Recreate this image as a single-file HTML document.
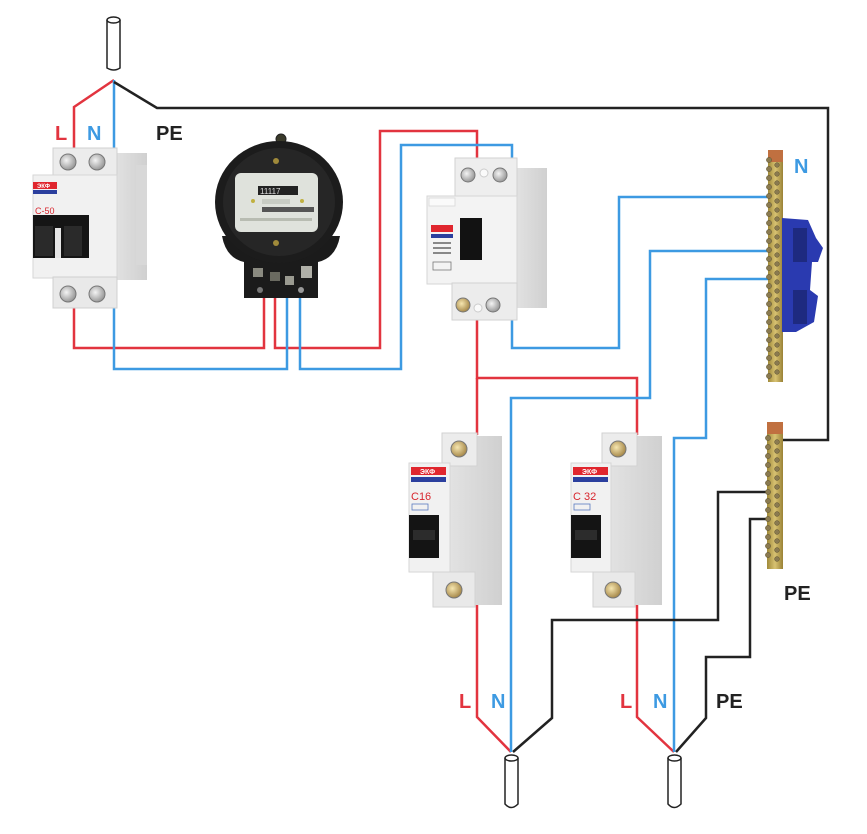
<!DOCTYPE html>
<html>
<head>
<meta charset="utf-8">
<style>
  html,body{margin:0;padding:0;background:#fff;}
  svg{display:block;}
  text{font-family:"Liberation Sans","DejaVu Sans",sans-serif;}
</style>
</head>
<body>
<svg width="867" height="834" viewBox="0 0 867 834" xmlns="http://www.w3.org/2000/svg">
  <defs>
    <linearGradient id="brass" x1="0" x2="1" y1="0" y2="0">
      <stop offset="0" stop-color="#a08a3a"/>
      <stop offset="0.5" stop-color="#d8c272"/>
      <stop offset="1" stop-color="#9a8236"/>
    </linearGradient>
    <linearGradient id="side" x1="0" x2="1" y1="0" y2="0">
      <stop offset="0" stop-color="#e2e2e2"/>
      <stop offset="1" stop-color="#d0d0d0"/>
    </linearGradient>
    <radialGradient id="screw" cx="0.4" cy="0.4" r="0.7">
      <stop offset="0" stop-color="#f4f4f4"/>
      <stop offset="1" stop-color="#8a8a8a"/>
    </radialGradient>
    <radialGradient id="screwb" cx="0.4" cy="0.4" r="0.7">
      <stop offset="0" stop-color="#f6e6b0"/>
      <stop offset="1" stop-color="#9a7a3a"/>
    </radialGradient>
  </defs>

  <rect width="867" height="834" fill="#fff"/>

  <!-- ================= WIRES ================= -->
  <g fill="none" stroke-width="2.5" stroke-linejoin="miter">
    <g stroke="#e2343f">
      <path d="M114,80 L74,107 L74,150"/>
      <path d="M74,306 L74,348 L264,348 L264,298"/>
      <path d="M275,298 L275,348 L380,348 L380,131 L477,131 L477,160"/>
      <path d="M477,320 L477,378 L637,378 L637,435"/>
      <path d="M477,378 L477,435"/>
      <path d="M477,605 L477,717 L511,752"/>
      <path d="M637,605 L637,717 L674,752"/>
    </g>
    <g stroke="#3d9ae2">
      <path d="M114,80 L114,150"/>
      <path d="M114,306 L114,369 L287,369 L287,298"/>
      <path d="M300,298 L300,369 L401,369 L401,145 L512,145 L512,160"/>
      <path d="M512,320 L512,348 L619,348 L619,197 L771,197"/>
      <path d="M771,251 L650,251 L650,398 L511,398 L511,752"/>
      <path d="M771,279 L706,279 L706,438 L674,438 L674,752"/>
    </g>
    <g stroke="#222">
      <path d="M114,82 L157,108 L828,108 L828,440 L782,440"/>
      <path d="M768,492 L718,492 L718,620 L552,620 L552,718 L513,752"/>
      <path d="M768,519 L750,519 L750,657 L706,657 L706,718 L676,752"/>
    </g>
  </g>

  <!-- ================= CABLES ================= -->
  <g stroke="#222" stroke-width="1.5" fill="#fff">
    <path d="M107,20 L107,68 Q114,72 120,68 L120,20"/>
    <ellipse cx="113.5" cy="20" rx="6.5" ry="3"/>
  </g>
  <g stroke="#222" stroke-width="1.5" fill="#fff">
    <path d="M505,758 L505,804 Q511,811 518,804 L518,758"/>
    <ellipse cx="511.5" cy="758" rx="6.5" ry="3"/>
    <path d="M668,758 L668,804 Q674,811 681,804 L681,758"/>
    <ellipse cx="674.5" cy="758" rx="6.5" ry="3"/>
  </g>

  <!-- ================= BREAKER C50 (2-pole) ================= -->
  <g>
    <rect x="114" y="153" width="33" height="127" fill="url(#side)"/>
    <rect x="136" y="165" width="11" height="100" fill="#d8d8d8"/>
    <rect x="53" y="148" width="64" height="29" fill="#ececec" stroke="#d0d0d0"/>
    <rect x="33" y="175" width="84" height="103" fill="#f1f1f1" stroke="#d6d6d6"/>
    <rect x="53" y="277" width="64" height="31" fill="#e9e9e9" stroke="#d0d0d0"/>
    <circle cx="68" cy="162" r="8" fill="url(#screw)" stroke="#777"/>
    <circle cx="97" cy="162" r="8" fill="url(#screw)" stroke="#777"/>
    <circle cx="68" cy="294" r="8" fill="url(#screw)" stroke="#777"/>
    <circle cx="97" cy="294" r="8" fill="url(#screw)" stroke="#777"/>
    <rect x="33" y="182" width="24" height="7" fill="#e0262e"/>
    <text x="37" y="188" font-size="6" fill="#fff" font-weight="bold">ЭКФ</text>
    <rect x="33" y="190" width="24" height="4" fill="#2b3f9e"/>
    <text x="35" y="214" font-size="9" fill="#d8262e">С-50</text>
    <rect x="33" y="215" width="56" height="43" fill="#151515"/>
    <rect x="35" y="226" width="18" height="30" fill="#2a2a2a"/>
    <rect x="64" y="226" width="18" height="30" fill="#2a2a2a"/>
    <rect x="55" y="228" width="6" height="30" fill="#e5e5e5"/>
  </g>

  <!-- ================= METER ================= -->
  <g>
    <circle cx="281" cy="139" r="5" fill="#3a3a2a" stroke="#222"/>
    <path d="M222,236 Q226,258 244,262 L244,298 L318,298 L318,262 Q336,258 340,236 Z" fill="#1b1b1b"/>
    <ellipse cx="279" cy="202" rx="64" ry="61" fill="#1c1c1c"/>
    <ellipse cx="279" cy="202" rx="56" ry="54" fill="#262626"/>
    <rect x="235" y="173" width="83" height="59" rx="6" fill="#dfe2dc"/>
    <rect x="258" y="186" width="40" height="9" fill="#222"/>
    <text x="260" y="194" font-size="8" fill="#ddd" font-family="Liberation Mono, monospace">11117</text>
    <rect x="262" y="199" width="28" height="5" fill="#c8ccc4"/>
    <circle cx="253" cy="201" r="2" fill="#c0b040"/>
    <circle cx="302" cy="201" r="2" fill="#c0b040"/>
    <rect x="262" y="207" width="52" height="5" fill="#555"/>
    <rect x="240" y="218" width="72" height="3" fill="#b8bcb2"/>
    <circle cx="276" cy="161" r="3" fill="#a08a3a"/>
    <circle cx="276" cy="243" r="3" fill="#a08a3a"/>
    <rect x="253" y="268" width="10" height="9" fill="#8a8a80"/>
    <rect x="270" y="272" width="10" height="9" fill="#6a6a60"/>
    <rect x="285" y="276" width="9" height="9" fill="#9a9a90"/>
    <rect x="301" y="266" width="11" height="12" fill="#b0b0a8"/>
    <circle cx="260" cy="290" r="3" fill="#777"/>
    <circle cx="301" cy="290" r="3" fill="#999"/>
  </g>

  <!-- ================= RCD ================= -->
  <g>
    <rect x="515" y="168" width="32" height="140" fill="url(#side)"/>
    <rect x="455" y="158" width="62" height="38" fill="#eeeeee" stroke="#d2d2d2"/>
    <rect x="427" y="196" width="90" height="88" fill="#f3f3f3" stroke="#d6d6d6"/>
    <rect x="429" y="198" width="26" height="8" fill="#fafafa" stroke="#ddd"/>
    <rect x="431" y="225" width="22" height="7" fill="#e0262e"/>
    <rect x="431" y="234" width="22" height="4" fill="#2b3f9e"/>
    <rect x="433" y="242" width="18" height="2" fill="#888"/>
    <rect x="433" y="247" width="18" height="2" fill="#888"/>
    <rect x="433" y="252" width="18" height="2" fill="#888"/>
    <rect x="433" y="262" width="18" height="8" fill="none" stroke="#777" stroke-width="0.8"/>
    <rect x="460" y="218" width="22" height="42" fill="#121212"/>
    <rect x="452" y="283" width="65" height="37" fill="#ececec" stroke="#d2d2d2"/>
    <circle cx="468" cy="175" r="7" fill="url(#screw)" stroke="#777"/>
    <circle cx="484" cy="173" r="4" fill="#fafafa" stroke="#ccc"/>
    <circle cx="500" cy="175" r="7" fill="url(#screw)" stroke="#777"/>
    <circle cx="463" cy="305" r="7" fill="url(#screwb)" stroke="#777"/>
    <circle cx="478" cy="308" r="4" fill="#fafafa" stroke="#ccc"/>
    <circle cx="493" cy="305" r="7" fill="url(#screw)" stroke="#777"/>
  </g>

  <!-- ================= N BUS ================= -->
  <g>
    <rect x="768" y="150" width="15" height="232" fill="url(#brass)"/>
    <rect x="768" y="150" width="15" height="12" fill="#c07040"/>
    <path d="M782,218 L808,220 L816,238 L823,248 L818,262 L812,262 L810,290 L818,296 L814,322 L796,332 L782,332 Z" fill="#2a3ab0"/>
    <rect x="793" y="228" width="14" height="34" fill="#1e2a80"/>
    <rect x="793" y="290" width="14" height="34" fill="#1e2a80"/>
    <g fill="#8a7a50" stroke="#5a5030" stroke-width="0.5">
      <circle cx="769" cy="160" r="2.6"/><circle cx="769" cy="169" r="2.6"/><circle cx="769" cy="178" r="2.6"/>
      <circle cx="769" cy="187" r="2.6"/><circle cx="769" cy="196" r="2.6"/><circle cx="769" cy="205" r="2.6"/>
      <circle cx="769" cy="214" r="2.6"/><circle cx="769" cy="223" r="2.6"/><circle cx="769" cy="232" r="2.6"/>
      <circle cx="769" cy="241" r="2.6"/><circle cx="769" cy="250" r="2.6"/><circle cx="769" cy="259" r="2.6"/>
      <circle cx="769" cy="268" r="2.6"/><circle cx="769" cy="277" r="2.6"/><circle cx="769" cy="286" r="2.6"/>
      <circle cx="769" cy="295" r="2.6"/><circle cx="769" cy="304" r="2.6"/><circle cx="769" cy="313" r="2.6"/>
      <circle cx="769" cy="322" r="2.6"/><circle cx="769" cy="331" r="2.6"/><circle cx="769" cy="340" r="2.6"/>
      <circle cx="769" cy="349" r="2.6"/><circle cx="769" cy="358" r="2.6"/><circle cx="769" cy="367" r="2.6"/>
      <circle cx="769" cy="376" r="2.6"/>
      <circle cx="777" cy="165" r="2.3"/><circle cx="777" cy="174" r="2.3"/><circle cx="777" cy="183" r="2.3"/>
      <circle cx="777" cy="192" r="2.3"/><circle cx="777" cy="201" r="2.3"/><circle cx="777" cy="210" r="2.3"/>
      <circle cx="777" cy="219" r="2.3"/><circle cx="777" cy="228" r="2.3"/><circle cx="777" cy="237" r="2.3"/>
      <circle cx="777" cy="246" r="2.3"/><circle cx="777" cy="255" r="2.3"/><circle cx="777" cy="264" r="2.3"/>
      <circle cx="777" cy="273" r="2.3"/><circle cx="777" cy="282" r="2.3"/><circle cx="777" cy="291" r="2.3"/>
      <circle cx="777" cy="300" r="2.3"/><circle cx="777" cy="309" r="2.3"/><circle cx="777" cy="318" r="2.3"/>
      <circle cx="777" cy="327" r="2.3"/><circle cx="777" cy="336" r="2.3"/><circle cx="777" cy="345" r="2.3"/>
      <circle cx="777" cy="354" r="2.3"/><circle cx="777" cy="363" r="2.3"/><circle cx="777" cy="372" r="2.3"/>
    </g>
  </g>

  <!-- ================= PE BUS ================= -->
  <g>
    <rect x="767" y="422" width="16" height="147" fill="url(#brass)"/>
    <rect x="767" y="422" width="16" height="12" fill="#c07040"/>
    <g fill="#8a7a50" stroke="#5a5030" stroke-width="0.5">
      <circle cx="768" cy="438" r="2.6"/><circle cx="768" cy="447" r="2.6"/><circle cx="768" cy="456" r="2.6"/>
      <circle cx="768" cy="465" r="2.6"/><circle cx="768" cy="474" r="2.6"/><circle cx="768" cy="483" r="2.6"/>
      <circle cx="768" cy="492" r="2.6"/><circle cx="768" cy="501" r="2.6"/><circle cx="768" cy="510" r="2.6"/>
      <circle cx="768" cy="519" r="2.6"/><circle cx="768" cy="528" r="2.6"/><circle cx="768" cy="537" r="2.6"/>
      <circle cx="768" cy="546" r="2.6"/><circle cx="768" cy="555" r="2.6"/>
      <circle cx="777" cy="442" r="2.4"/><circle cx="777" cy="451" r="2.4"/><circle cx="777" cy="460" r="2.4"/>
      <circle cx="777" cy="469" r="2.4"/><circle cx="777" cy="478" r="2.4"/><circle cx="777" cy="487" r="2.4"/>
      <circle cx="777" cy="496" r="2.4"/><circle cx="777" cy="505" r="2.4"/><circle cx="777" cy="514" r="2.4"/>
      <circle cx="777" cy="523" r="2.4"/><circle cx="777" cy="532" r="2.4"/><circle cx="777" cy="541" r="2.4"/>
      <circle cx="777" cy="550" r="2.4"/><circle cx="777" cy="559" r="2.4"/>
    </g>
  </g>

  <!-- ================= BREAKER C16 ================= -->
  <g>
    <rect x="450" y="436" width="52" height="169" fill="url(#side)"/>
    <rect x="442" y="433" width="35" height="33" fill="#ececec" stroke="#d2d2d2"/>
    <rect x="409" y="463" width="41" height="109" fill="#f1f1f1" stroke="#d6d6d6"/>
    <rect x="433" y="572" width="42" height="35" fill="#e9e9e9" stroke="#d2d2d2"/>
    <circle cx="459" cy="449" r="8" fill="url(#screwb)" stroke="#777"/>
    <circle cx="454" cy="590" r="8" fill="url(#screwb)" stroke="#777"/>
    <rect x="411" y="467" width="35" height="8" fill="#e0262e"/>
    <text x="420" y="474" font-size="7" fill="#fff" font-weight="bold">ЭКФ</text>
    <rect x="411" y="477" width="35" height="5" fill="#2b3f9e"/>
    <text x="411" y="500" font-size="11" fill="#d8262e">C16</text>
    <rect x="412" y="504" width="16" height="6" fill="none" stroke="#5a7ac0" stroke-width="0.8"/>
    <rect x="409" y="515" width="30" height="43" fill="#141414"/>
    <rect x="413" y="530" width="22" height="10" fill="#2c2c2c"/>
  </g>

  <!-- ================= BREAKER C32 ================= -->
  <g>
    <rect x="610" y="436" width="52" height="169" fill="url(#side)"/>
    <rect x="602" y="433" width="35" height="33" fill="#ececec" stroke="#d2d2d2"/>
    <rect x="571" y="463" width="40" height="109" fill="#f1f1f1" stroke="#d6d6d6"/>
    <rect x="593" y="572" width="42" height="35" fill="#e9e9e9" stroke="#d2d2d2"/>
    <circle cx="618" cy="449" r="8" fill="url(#screwb)" stroke="#777"/>
    <circle cx="613" cy="590" r="8" fill="url(#screwb)" stroke="#777"/>
    <rect x="573" y="467" width="35" height="8" fill="#e0262e"/>
    <text x="582" y="474" font-size="7" fill="#fff" font-weight="bold">ЭКФ</text>
    <rect x="573" y="477" width="35" height="5" fill="#2b3f9e"/>
    <text x="573" y="500" font-size="11" fill="#d8262e">C 32</text>
    <rect x="574" y="504" width="16" height="6" fill="none" stroke="#5a7ac0" stroke-width="0.8"/>
    <rect x="571" y="515" width="30" height="43" fill="#141414"/>
    <rect x="575" y="530" width="22" height="10" fill="#2c2c2c"/>
  </g>

  <!-- ================= LABELS ================= -->
  <g font-size="20" font-weight="bold">
    <text x="55" y="140" fill="#e2343f">L</text>
    <text x="87" y="140" fill="#3d9ae2">N</text>
    <text x="156" y="140" fill="#222">PE</text>
    <text x="794" y="173" fill="#3d9ae2">N</text>
    <text x="784" y="600" fill="#222">PE</text>
    <text x="459" y="708" fill="#e2343f">L</text>
    <text x="491" y="708" fill="#3d9ae2">N</text>
    <text x="620" y="708" fill="#e2343f">L</text>
    <text x="653" y="708" fill="#3d9ae2">N</text>
    <text x="716" y="708" fill="#222">PE</text>
  </g>
</svg>
</body>
</html>
